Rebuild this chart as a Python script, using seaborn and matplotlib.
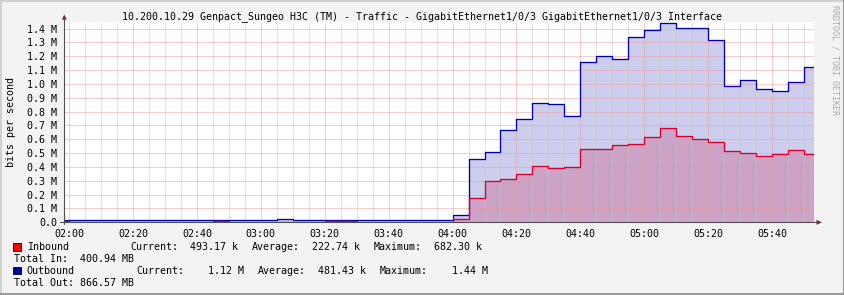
import matplotlib
matplotlib.use("Agg")
import matplotlib.pyplot as plt
import seaborn as sns
import pandas as pd
from matplotlib.patches import Polygon, Rectangle
from matplotlib.lines import Line2D

# ---------------- data ----------------
TITLE = ("10.200.10.29 Genpact_Sungeo H3C (TM) - Traffic - "
         "GigabitEthernet1/0/3 GigabitEthernet1/0/3 Interface")
Y_LABEL = "bits per second"
WATERMARK = "RRDTOOL / TOBI OETIKER"

sample_times = [
    "01:55",
    "02:00", "02:05", "02:10", "02:15", "02:20", "02:25",
    "02:30", "02:35", "02:40", "02:45", "02:50", "02:55",
    "03:00", "03:05", "03:10", "03:15", "03:20", "03:25",
    "03:30", "03:35", "03:40", "03:45", "03:50", "03:55",
    "04:00", "04:05", "04:10", "04:15", "04:20", "04:25",
    "04:30", "04:35", "04:40", "04:45", "04:50", "04:55",
    "05:00", "05:05", "05:10", "05:15", "05:20", "05:25",
    "05:30", "05:35", "05:40", "05:45", "05:50",
]
# Mbit/s
inbound_m = [
    0.008,
    0.004, 0.004, 0.004, 0.004, 0.004, 0.004,
    0.004, 0.004, 0.003, 0.008, 0.004, 0.004,
    0.004, 0.004, 0.004, 0.004, 0.008, 0.008,
    0.004, 0.004, 0.004, 0.004, 0.004, 0.004,
    0.024, 0.174, 0.299, 0.311, 0.348, 0.406,
    0.391, 0.398, 0.529, 0.529, 0.558, 0.567,
    0.613, 0.682, 0.623, 0.601, 0.579, 0.514,
    0.502, 0.478, 0.492, 0.521, 0.493,
]
outbound_m = [
    0.014,
    0.014, 0.014, 0.014, 0.014, 0.014, 0.014,
    0.014, 0.014, 0.014, 0.014, 0.014, 0.014,
    0.014, 0.022, 0.014, 0.014, 0.014, 0.014,
    0.014, 0.014, 0.014, 0.014, 0.014, 0.014,
    0.051, 0.454, 0.509, 0.666, 0.746, 0.862,
    0.854, 0.770, 1.159, 1.202, 1.183, 1.342,
    1.390, 1.440, 1.405, 1.405, 1.318, 0.985,
    1.028, 0.963, 0.949, 1.014, 1.120,
]
view_start = "01:58:30"
view_end = "05:53:12"

x_tick_labels = ["02:00", "02:20", "02:40", "03:00", "03:20", "03:40",
                 "04:00", "04:20", "04:40", "05:00", "05:20", "05:40"]
y_ticks = [0.0, 0.1, 0.2, 0.3, 0.4, 0.5, 0.6, 0.7, 0.8, 0.9, 1.0, 1.1, 1.2, 1.3, 1.4]
y_tick_labels = ["0.0", "0.1 M", "0.2 M", "0.3 M", "0.4 M", "0.5 M", "0.6 M",
                 "0.7 M", "0.8 M", "0.9 M", "1.0 M", "1.1 M", "1.2 M",
                 "1.3 M", "1.4 M"]
y_max = 1.45

legend_names = ["Inbound", "Outbound"]
legend_current = ["493.17 k", "1.12 M"]
legend_average = ["222.74 k", "481.43 k"]
legend_maximum = ["682.30 k", "1.44 M"]
legend_totals = ["Total In:  400.94 MB", "Total Out: 866.57 MB"]

# ---------------- styling ----------------
W, H = 845, 295
BG = "#F3F3F3"
IN_AREA, IN_LINE, IN_KEY = "#CCA2C6", "#D8002A", "#FF0000"
OUT_AREA, OUT_LINE, OUT_KEY = "#CDCDEE", "#0000AA", "#0000AA"
MAJOR_GRID = "#EE9A9A"
MINOR_GRID = "#C4C4C4"
AXIS_COL = "#505050"
ARROW_COL = "#7F1F1F"
FONT = "DejaVu Sans Mono"
FS = 7.2


def to_min(t):
    parts = [int(p) for p in t.split(":")]
    while len(parts) < 3:
        parts.append(0)
    h, m, s = parts
    return (h - 2) * 60 + m + s / 60.0


sns.set_theme(style="white")
plt.rcParams["font.family"] = [FONT, "DejaVu Sans"]

x0, x1 = to_min(view_start), to_min(view_end)
mins = [to_min(t) for t in sample_times]
df = pd.DataFrame({
    "minute": mins + [x1],
    "inbound": inbound_m + [inbound_m[-1]],
    "outbound": outbound_m + [outbound_m[-1]],
})

fig = plt.figure(figsize=(W / 100, H / 100), dpi=100, facecolor=BG)


def fx(x):
    return x / W


def fy(y):
    return 1 - y / H


# plot area in pixels
PL, PR, PT, PB = 64.3, 814.3, 21.7, 222.3
ax = fig.add_axes([fx(PL), fy(PB), (PR - PL) / W, (PB - PT) / H])
ax.set_facecolor("white")

# areas
ax.fill_between(df["minute"], 0, df["outbound"], step="post",
                color=OUT_AREA, lw=0, zorder=1)
ax.fill_between(df["minute"], 0, df["inbound"], step="post",
                color=IN_AREA, lw=0, zorder=1.1)
# lines
sns.lineplot(data=df, x="minute", y="outbound", ax=ax, color=OUT_LINE,
             lw=0.95, drawstyle="steps-post", estimator=None, sort=False,
             zorder=4)
sns.lineplot(data=df, x="minute", y="inbound", ax=ax, color=IN_LINE,
             lw=0.95, drawstyle="steps-post", estimator=None, sort=False,
             zorder=4)

ax.set_xlim(x0, x1)
ax.set_ylim(0, y_max)

major_x = [to_min(t) for t in x_tick_labels]
minor_x = [m for m in mins if x0 <= m <= x1]
ax.set_xticks(major_x)
ax.set_xticklabels(x_tick_labels)
ax.set_xticks(minor_x, minor=True)
ax.set_yticks(y_ticks)
ax.set_yticklabels(y_tick_labels)

for lab in ax.get_xticklabels() + ax.get_yticklabels():
    lab.set_fontfamily(FONT)
    lab.set_fontsize(FS)
    lab.set_color("#000000")

ax.tick_params(axis="both", which="major", length=2, width=0.7,
               color=AXIS_COL, pad=2.9, direction="out")
ax.tick_params(axis="x", which="minor", length=0)

ax.set_axisbelow(False)
dots = (0, (1, 1))
ax.xaxis.grid(True, which="minor", color=MINOR_GRID, lw=0.72, linestyle=dots)
ax.xaxis.grid(True, which="major", color=MAJOR_GRID, lw=0.72, linestyle=dots)
ax.yaxis.grid(True, which="major", color=MAJOR_GRID, lw=0.72, linestyle=dots)
for gl in ax.get_xgridlines() + ax.get_ygridlines():
    gl.set_zorder(3)

for s in ax.spines.values():
    s.set_visible(False)
ax.set_xlabel("")
ax.set_ylabel("")

# axis lines with arrows (figure pixels)
fig.add_artist(Line2D([fx(PL), fx(PL)], [fy(PB + 2), fy(18)],
                      color=AXIS_COL, lw=0.8))
fig.add_artist(Line2D([fx(60), fx(817)], [fy(PB), fy(PB)],
                      color=AXIS_COL, lw=0.8))
fig.add_artist(Polygon([(fx(61.8), fy(19.6)), (fx(66.8), fy(19.6)),
                        (fx(64.3), fy(14.6))], closed=True,
                       color=ARROW_COL, lw=0))
fig.add_artist(Polygon([(fx(816.5), fy(219.8)), (fx(816.5), fy(224.8)),
                        (fx(821.8), fy(PB))], closed=True,
                       color=ARROW_COL, lw=0))

# title, axis label, watermark
fig.text(fx(422.5), fy(19), TITLE, ha="center", va="baseline",
         fontsize=FS, family=FONT, color="#000000")
fig.text(fx(11), fy(PT + (PB - PT) / 2), Y_LABEL, rotation=90,
         ha="center", va="center", fontsize=FS, family=FONT, color="#000000")
fig.text(fx(835), fy(60), WATERMARK, rotation=270, ha="center",
         va="center", fontsize=6.0, family=FONT, color="#ABABAB")

# legend
rows = [
    dict(y=250, key=IN_KEY, pos=[26.7, 130, 190, 252.3, 312.3, 374, 434]),
    dict(y=273.7, key=OUT_KEY, pos=[26.7, 136.7, 208.3, 258.3, 318.3, 380, 452.3]),
]
total_y = [261.7, 285.7]
for i, r in enumerate(rows):
    y = r["y"]
    fig.add_artist(Rectangle((fx(13.3), fy(y + 0.7)), 7.4 / W, 7.4 / H,
                             facecolor=r["key"], edgecolor="#000000",
                             lw=0.6))
    pieces = [legend_names[i], "Current:", legend_current[i], "Average:",
              legend_average[i], "Maximum:", legend_maximum[i]]
    for txt, px in zip(pieces, r["pos"]):
        fig.text(fx(px), fy(y), txt, ha="left", va="baseline",
                 fontsize=FS, family=FONT, color="#000000")
    fig.text(fx(14), fy(total_y[i]), legend_totals[i], ha="left",
             va="baseline", fontsize=FS, family=FONT, color="#000000")

# 3D frame around the image
fig.add_artist(Rectangle((0, 1 - 2 / H), 1, 2 / H, transform=fig.transFigure,
                         facecolor="#CFCFCF", lw=0))
fig.add_artist(Rectangle((0, 0), 2 / W, 1, transform=fig.transFigure,
                         facecolor="#CFCFCF", lw=0))
fig.add_artist(Rectangle((0, 0), 1, 2 / H, transform=fig.transFigure,
                         facecolor="#9A9A9A", lw=0))
fig.add_artist(Rectangle((1 - 2 / W, 0), 2 / W, 1, transform=fig.transFigure,
                         facecolor="#9A9A9A", lw=0))

fig.savefig("out.png", dpi=100, facecolor=BG)
